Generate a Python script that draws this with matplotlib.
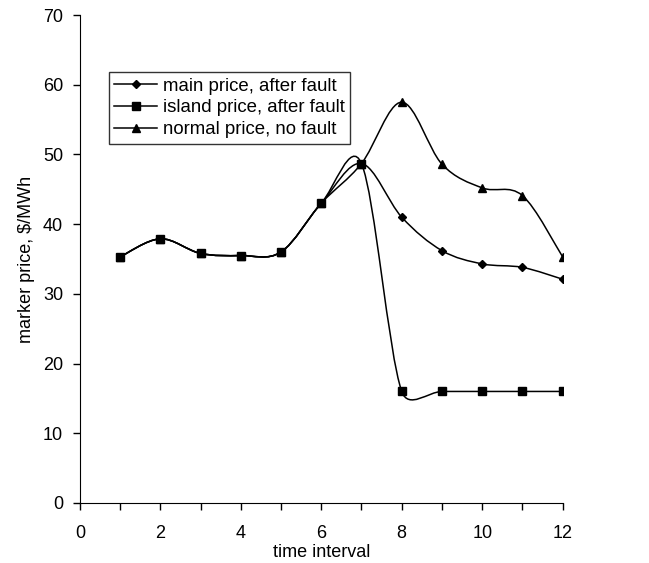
import matplotlib
matplotlib.use("Agg")
import matplotlib.pyplot as plt
import numpy as np
from matplotlib.path import Path
from matplotlib.patches import PathPatch
from matplotlib.lines import Line2D

plt.rcParams['font.family'] = ['Liberation Sans', 'DejaVu Sans']

# data
time = [1, 2, 3, 4, 5, 6, 7, 8, 9, 10, 11, 12]
main_price = [35.3, 37.9, 35.8, 35.5, 36.0, 43.0, 48.7, 41.0, 36.2, 34.3, 33.8, 32.1]
island_price = [35.3, 37.9, 35.8, 35.5, 36.0, 43.0, 48.7, 16.0, 16.0, 16.0, 16.0, 16.0]
normal_price = [35.3, 37.9, 35.8, 35.5, 36.0, 43.0, 48.7, 57.5, 48.6, 45.2, 44.1, 35.3]

labels = ["main price, after fault", "island price, after fault", "normal price, no fault"]
markers = ["D", "s", "^"]
msizes = [4.5, 6, 6]
fs = 13


def smooth_path(ax, x, y):
    # Excel-like smoothed line: Bezier through the points, computed in pixels,
    # control arms = tangent/6 but never longer than half the segment
    p = ax.transData.transform(np.column_stack([x, y]))
    n = len(p)
    verts = [p[0]]
    codes = [Path.MOVETO]
    for i in range(n - 1):
        p0 = p[i - 1] if i > 0 else p[i]
        p3 = p[i + 2] if i + 2 < n else p[i + 1]
        seg = np.hypot(*(p[i + 1] - p[i]))
        t1 = p[i + 1] - p0
        t2 = p3 - p[i]
        l1 = np.hypot(*t1)
        l2 = np.hypot(*t2)
        f1 = 1 / 6 if l1 / 6 < seg / 2 else seg / (2 * l1)
        f2 = 1 / 6 if l2 / 6 < seg / 2 else seg / (2 * l2)
        verts += [p[i] + f1 * t1, p[i + 1] - f2 * t2, p[i + 1]]
        codes += [Path.CURVE4] * 3
    verts = ax.transData.inverted().transform(np.array(verts))
    return Path(verts, codes)


fig = plt.figure(figsize=(6.49, 5.63), dpi=100)
ax = fig.add_axes([0.123, 0.1066, 0.744, 0.8667])
ax.set_xlim(0, 12)
ax.set_ylim(0, 70)

handles = []
for ys, lab, mk, ms in zip([main_price, island_price, normal_price], labels, markers, msizes):
    ax.add_patch(PathPatch(smooth_path(ax, time, ys), facecolor='none', edgecolor='black', lw=1.1))
    ax.plot(time, ys, linestyle='none', marker=mk, color='black', markersize=ms)
    handles.append(Line2D([], [], color='black', lw=1.1, marker=mk, markersize=ms))

ax.set_xticks(range(0, 13, 2))
ax.set_xticks(range(1, 13, 2), minor=True)
ax.set_yticks(range(0, 71, 10))
ax.tick_params(axis='both', which='both', direction='out', length=5, width=1, labelsize=fs)
ax.tick_params(axis='x', pad=11)
ax.tick_params(axis='y', pad=7)
ax.spines['top'].set_visible(False)
ax.spines['right'].set_visible(False)

ax.set_xlabel("time interval", fontsize=fs, labelpad=1.5)
ax.set_ylabel("marker price, $/MWh", fontsize=fs, labelpad=6)

leg = ax.legend(handles, labels, loc='upper left', bbox_to_anchor=(0.06, 0.883),
                borderaxespad=0, fontsize=13.4, frameon=True, fancybox=False,
                edgecolor='black', handlelength=2.3, handletextpad=0.3,
                borderpad=0.3, labelspacing=0.25)
leg.get_frame().set_linewidth(1.0)

fig.savefig("out.png", dpi=100)
